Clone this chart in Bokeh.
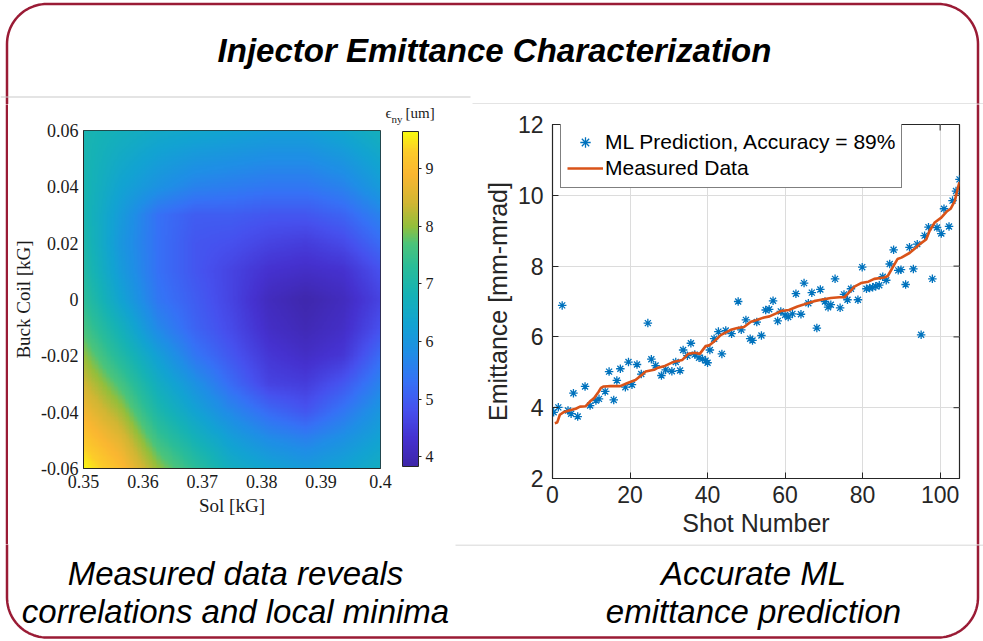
import numpy as np
from bokeh.plotting import figure
from bokeh.models import (Range1d, LinearColorMapper, ColorBar, FixedTicker,
                          Legend, LegendItem)
from bokeh.layouts import column, row
from bokeh.embed import file_html
from bokeh.resources import INLINE
from bokeh.core.properties import value

# ---------------- emittance map: solenoid vs buck coil ----------------
sol_kG = [0.35, 0.35625, 0.3625, 0.36875, 0.375, 0.38125, 0.3875, 0.39375, 0.4]
buck_kG = [-0.06, -0.05, -0.04, -0.03, -0.02, -0.01, 0.0, 0.01, 0.02, 0.03, 0.04, 0.05, 0.06]
# rows follow buck_kG (bottom to top), columns follow sol_kG
emit_map_um = [
    [9.6, 9.0, 8.0, 7.3, 6.6, 6.3, 6.1, 6.3, 6.6],
    [9.2, 8.6, 7.5, 6.8, 6.2, 5.8, 5.6, 5.9, 6.3],
    [8.8, 8.1, 7.0, 6.3, 5.7, 5.2, 4.9, 5.4, 6.0],
    [8.4, 7.6, 6.6, 5.9, 5.2, 4.6, 4.5, 4.9, 5.6],
    [8.0, 7.1, 6.2, 5.4, 4.9, 4.4, 4.2, 4.4, 5.2],
    [7.6, 6.7, 5.7, 5.1, 4.7, 4.2, 4.0, 4.2, 4.8],
    [7.3, 6.3, 5.4, 5.0, 4.6, 4.1, 3.9, 4.1, 4.6],
    [7.1, 6.1, 5.3, 4.9, 4.6, 4.3, 4.2, 4.3, 4.8],
    [7.0, 6.0, 5.3, 4.9, 4.8, 4.6, 4.5, 4.7, 5.2],
    [6.9, 6.1, 5.3, 5.0, 5.0, 4.9, 4.9, 5.1, 5.6],
    [6.9, 6.3, 5.9, 5.6, 5.5, 5.4, 5.4, 5.6, 6.1],
    [6.9, 6.5, 6.2, 6.0, 5.9, 5.8, 5.8, 6.0, 6.4],
    [6.9, 6.7, 6.5, 6.4, 6.3, 6.2, 6.2, 6.4, 6.7],
]
sol_ticks = [0.35, 0.36, 0.37, 0.38, 0.39, 0.4]
sol_tick_labels = ["0.35", "0.36", "0.37", "0.38", "0.39", "0.4"]
buck_ticks = [-0.06, -0.04, -0.02, 0.0, 0.02, 0.04, 0.06]
buck_tick_labels = ["-0.06", "-0.04", "-0.02", "0", "0.02", "0.04", "0.06"]
cbar_ticks = [4, 5, 6, 7, 8, 9]
cbar_low, cbar_high = 3.83, 9.64

# ---------------- ML prediction vs measured emittance ----------------
shot_pred = [0.3, 1.5, 2.5, 4.0, 4.8, 5.4, 6.5, 8.4, 9.7, 11.2, 12.0, 13.6, 14.6, 15.8,
             16.6, 17.5, 18.8, 19.6, 20.5, 21.8, 22.9, 24.6, 25.5, 26.6, 28.1, 29.2,
             30.8, 31.8, 32.9, 33.7, 34.8, 35.7, 36.7, 37.8, 38.7, 39.5, 40.0, 40.6,
             41.7, 42.8, 43.7, 44.7, 46.2, 47.9, 48.7, 49.9, 51.0, 51.6, 52.7, 53.9,
             55.0, 55.9, 56.9, 58.1, 58.9, 60.0, 60.8, 61.9, 62.8, 64.1, 64.9, 66.0,
             66.9, 68.2, 69.1, 70.3, 71.1, 71.8, 72.9, 74.2, 75.2, 76.1, 77.0, 78.8,
             79.9, 81.0, 81.8, 82.6, 83.4, 84.3, 85.2, 86.1, 87.0, 88.0, 89.2, 89.9,
             91.1, 92.1, 93.1, 94.1, 95.1, 96.0, 97.0, 98.0, 99.2, 100.3, 101.0,
             102.3, 103.2, 104.1, 105.0]
emit_pred = [3.87, 4.01, 6.89, 3.92, 3.83, 4.41, 3.75, 4.60, 4.06, 4.20, 4.25, 4.46, 5.02, 4.22,
             4.77, 5.10, 4.58, 5.29, 4.65, 5.22, 4.95, 6.39, 5.37, 5.19, 4.91, 5.07,
             5.03, 5.29, 5.05, 5.63, 5.47, 5.82, 5.50, 5.41, 5.38, 5.33, 5.27, 5.63,
             5.95, 6.15, 5.52, 6.18, 6.09, 7.00, 6.20, 6.48, 5.95, 5.90, 6.42, 6.04,
             6.76, 6.78, 7.02, 6.45, 6.72, 6.62, 6.56, 6.65, 7.22, 6.64, 7.52, 6.95,
             7.25, 6.25, 7.34, 7.00, 6.84, 6.91, 7.64, 6.82, 7.20, 7.05, 7.36, 7.05,
             7.97, 7.36, 7.38, 7.40, 7.43, 7.46, 7.70, 7.60, 8.06, 8.46, 7.88, 7.90,
             7.48, 8.53, 7.92, 8.62, 6.06, 8.86, 9.10, 7.64, 9.09, 8.92, 9.62,
             9.12, 9.85, 10.12, 10.45]
shot_meas = [0.6, 1.2, 1.9, 3.0, 4.5, 6.0, 7.1, 8.5, 9.7, 10.7, 11.9, 12.5, 13.2, 15.0,
             17.5, 19.2, 21.4, 23.1, 24.0, 26.2, 27.0, 29.0, 31.4, 33.5, 35.0, 36.7,
             38.0, 39.5, 40.4, 42.0, 43.4, 45.0, 46.0, 47.7, 49.4, 51.2, 52.5, 54.6,
             56.0, 58.0, 58.9, 61.0, 63.2, 65.0, 67.5, 69.3, 71.8, 74.0, 75.3, 76.1,
             77.9, 79.6, 81.5, 83.0, 85.6, 86.5, 87.8, 89.0, 90.0, 92.1, 93.5, 95.1,
             96.4, 97.3, 98.6, 100.3, 101.8, 102.7, 103.8, 104.6, 105.0]
emit_meas = [3.56, 3.58, 3.80, 3.88, 3.93, 3.97, 4.03, 4.04, 4.18, 4.27, 4.45, 4.56, 4.60, 4.61,
             4.61, 4.69, 4.78, 4.93, 5.02, 5.07, 5.12, 5.18, 5.30, 5.35, 5.52, 5.55,
             5.52, 5.74, 5.76, 5.90, 6.05, 6.14, 6.20, 6.25, 6.28, 6.43, 6.47, 6.55,
             6.58, 6.68, 6.73, 6.76, 6.86, 6.92, 7.01, 7.05, 7.10, 7.12, 7.12, 7.21,
             7.42, 7.52, 7.56, 7.64, 7.68, 7.72, 7.97, 8.20, 8.24, 8.37, 8.50, 8.65,
             8.75, 9.00, 9.23, 9.37, 9.55, 9.62, 9.84, 10.22, 10.37]
shot_ticks = [0, 20, 40, 60, 80, 100]
emit_ticks = [2, 4, 6, 8, 10, 12]
shot_lim = (0, 105)
emit_lim = (2, 12)

# ---------------- styling ----------------
W, H = 983, 641
MID_TOP, MID_BOT = 104, 544
SERIF = "Liberation Serif"
SANS = "Liberation Sans"
INK = "#262626"
FRAME_RED = "#9a1b35"
SEP_GREY = "#c9c9c9"

# parula-like colour ramp sampled at the colour-bar stops
ramp = [(3.83, "#3e26a8"), (4.3, "#4531cf"), (4.8, "#4650ee"), (5.3, "#3671f6"),
        (5.8, "#1f8ee6"), (6.3, "#12a3d2"), (6.8, "#15b2b6"), (7.3, "#2abd98"),
        (7.7, "#4cc47a"), (8.0, "#93bf3c"), (8.4, "#d0b633"), (8.9, "#fab631"),
        (9.3, "#fccb2a"), (9.64, "#f9fb0e")]


def build_palette(stops, lo, hi, n=256):
    vals = np.array([s[0] for s in stops])
    rgb = np.array([[int(h[i:i + 2], 16) for i in (1, 3, 5)] for _, h in stops], float)
    out = []
    for v in np.linspace(lo, hi, n):
        c = [np.interp(v, vals, rgb[:, k]) for k in range(3)]
        out.append("#%02x%02x%02x" % tuple(int(round(x)) for x in c))
    return out


def rounded_outline(x0, y0, x1, y1, r, n=24):
    xs, ys = [], []
    for cx, cy, a0 in ((x0 + r, y0 + r, 180), (x1 - r, y0 + r, 270),
                       (x1 - r, y1 - r, 0), (x0 + r, y1 - r, 90)):
        a = np.radians(np.linspace(a0, a0 + 90, n))
        xs += list(cx + r * np.cos(a))
        ys += list(cy + r * np.sin(a))
    xs.append(xs[0])
    ys.append(ys[0])
    return xs, ys


BORDER = rounded_outline(6.5, 3.5, 977.5, 637.0, 40)


def page_strip(x0, x1, y0, y1):
    """A bare canvas whose data coordinates are page pixels (y downwards)."""
    p = figure(width=x1 - x0, height=y1 - y0, x_range=Range1d(x0, x1),
               y_range=Range1d(y1, y0), x_axis_type=None, y_axis_type=None,
               title=None, output_backend="svg", toolbar_location=None, min_border=0)
    p.min_border_left = p.min_border_right = p.min_border_top = p.min_border_bottom = 0
    p.grid.visible = False
    p.outline_line_color = None
    p.line(BORDER[0], BORDER[1], line_color=FRAME_RED, line_width=2.5)
    return p


# ---------------- header ----------------
head = page_strip(0, W, 0, MID_TOP)
head.line([0, 470], [96.5, 96.5], line_color=SEP_GREY, line_width=1)
head.line([472, W], [103.5, 103.5], line_color=SEP_GREY, line_width=1)
head.text(x=[494], y=[50], text=["Injector Emittance Characterization"],
          text_font=value(SANS), text_font_style="bold italic", text_font_size="33px",
          text_align="center", text_baseline="middle", text_color="black")

edge_l = page_strip(0, 8, MID_TOP, MID_BOT)
edge_r = page_strip(975, W, MID_TOP, MID_BOT)

# ---------------- emittance map ----------------
heat = figure(width=458, height=MID_BOT - MID_TOP, x_range=Range1d(0.35, 0.4),
              y_range=Range1d(-0.06, 0.06),
              title=None, output_backend="svg", toolbar_location=None,
              min_border_left=75, min_border_right=86, min_border_top=26, min_border_bottom=76)
heat.grid.visible = False

# shaded (bilinear) surface between the measured nodes
xs_f = np.linspace(sol_kG[0], sol_kG[-1], 220)
ys_f = np.linspace(buck_kG[0], buck_kG[-1], 260)
grid = np.array(emit_map_um)
tmp = np.array([np.interp(xs_f, sol_kG, r) for r in grid])
surf = np.array([np.interp(ys_f, buck_kG, tmp[:, j]) for j in range(len(xs_f))]).T

mapper = LinearColorMapper(palette=build_palette(ramp, cbar_low, cbar_high),
                           low=cbar_low, high=cbar_high)
heat.image(image=[surf], x=0.35, y=-0.06, dw=0.05, dh=0.12, color_mapper=mapper)

heat.outline_line_color = INK
heat.outline_line_width = 1
for ax, ticks, labels in ((heat.xaxis, sol_ticks, sol_tick_labels),
                          (heat.yaxis, buck_ticks, buck_tick_labels)):
    ax.ticker = FixedTicker(ticks=ticks)
    ax.major_label_overrides = dict(zip(ticks, labels))
    ax.major_tick_in = 0
    ax.major_tick_out = 0
    ax.minor_tick_line_color = None
    ax.axis_line_color = INK
    ax.major_label_text_font = SERIF
    ax.major_label_text_font_size = "18px"
    ax.major_label_text_color = "#1a1a1a"
    ax.axis_label_text_font = SERIF
    ax.axis_label_text_font_size = "19px"
    ax.axis_label_text_font_style = "normal"
    ax.axis_label_text_color = "#1a1a1a"
heat.xaxis.axis_label = "Sol [kG]"
heat.yaxis.axis_label = "Buck Coil [kG]"
heat.xaxis.major_label_standoff = 6
heat.yaxis.major_label_standoff = 5
heat.xaxis.axis_label_standoff = 4
heat.yaxis.axis_label_standoff = 4

# colour bar sits in the right-hand margin, offset from the plot frame
cbar = ColorBar(color_mapper=mapper, ticker=FixedTicker(ticks=cbar_ticks),
                orientation="vertical", width=16, height=335, location=(319, 2),
                padding=0, margin=0, label_standoff=4,
                major_tick_in=0, major_tick_out=3, major_tick_line_color=INK,
                bar_line_color=INK, bar_line_width=1,
                major_label_text_font=SERIF, major_label_text_font_size="16px",
                major_label_text_color="#1a1a1a",
                background_fill_color=None, border_line_color=None)
heat.add_layout(cbar)


def bar_heading(text, x_px, y_px, size):
    """Heading piece above the colour bar (a bar-less colour-bar title)."""
    return ColorBar(color_mapper=mapper, ticker=FixedTicker(ticks=[]),
                    orientation="horizontal", width=1, height=1, location=(x_px, y_px),
                    padding=0, margin=0, scale_alpha=0, bar_line_color=None,
                    major_tick_line_color=None, minor_tick_line_color=None,
                    title=text, title_text_font=SERIF, title_text_font_size=size,
                    title_text_font_style="normal", title_text_color="#1a1a1a",
                    title_standoff=0, background_fill_color=None, border_line_color=None)


# epsilon with an "ny" subscript, followed by the unit
heat.add_layout(bar_heading("\u03f5", 302, 347, "15px"))
heat.add_layout(bar_heading("ny", 308, 343, "11px"))
heat.add_layout(bar_heading("[um]", 322, 347, "15px"))

# ---------------- ML prediction ----------------
sc = figure(width=509, height=MID_BOT - MID_TOP, x_range=Range1d(*shot_lim),
            y_range=Range1d(*emit_lim),
            title=None, output_backend="svg", toolbar_location=None,
            min_border_left=86, min_border_right=16, min_border_top=20, min_border_bottom=66)
sc.grid.grid_line_color = "#dcdcdc"
sc.grid.grid_line_width = 1
sc.xgrid.ticker = FixedTicker(ticks=shot_ticks)
sc.ygrid.ticker = FixedTicker(ticks=emit_ticks)
sc.outline_line_color = INK
sc.outline_line_width = 1.2

for ax in sc.axis:
    ax.major_tick_in = 6
    ax.major_tick_out = 0
    ax.minor_tick_line_color = None
    ax.axis_line_color = INK
    ax.major_tick_line_color = INK
    ax.major_label_text_font = SANS
    ax.major_label_text_font_size = "23px"
    ax.major_label_text_color = INK
    ax.axis_label_text_font = SANS
    ax.axis_label_text_font_size = "25px"
    ax.axis_label_text_font_style = "normal"
    ax.axis_label_text_color = INK
sc.xaxis.ticker = FixedTicker(ticks=shot_ticks)
sc.yaxis.ticker = FixedTicker(ticks=emit_ticks)
sc.xaxis.axis_label = "Shot Number"
sc.xaxis.major_label_standoff = 7
sc.xaxis.axis_label_standoff = 3
sc.yaxis.axis_label = "Emittance [mm-mrad]"
sc.yaxis.major_label_standoff = 9
sc.yaxis.axis_label_standoff = 3

# inward ticks on the top and right edges of the box (6 px long)
tick_dy = 6 * (emit_lim[1] - emit_lim[0]) / 354
tick_dx = 6 * (shot_lim[1] - shot_lim[0]) / 407
sc.segment(x0=shot_ticks, y0=[emit_lim[1]] * len(shot_ticks),
           x1=shot_ticks, y1=[emit_lim[1] - tick_dy] * len(shot_ticks),
           line_color=INK, line_width=1)
sc.segment(x0=[shot_lim[1]] * len(emit_ticks), y0=emit_ticks,
           x1=[shot_lim[1] - tick_dx] * len(emit_ticks), y1=emit_ticks,
           line_color=INK, line_width=1)

r_pred = sc.scatter(shot_pred, emit_pred, marker="asterisk", size=8.5,
                    line_color="#0072bd", line_width=1.3)
r_meas = sc.line(shot_meas, emit_meas, line_color="#d95319", line_width=2.6)

legend = Legend(items=[LegendItem(label="ML Prediction, Accuracy = 89%", renderers=[r_pred]),
                       LegendItem(label="Measured Data", renderers=[r_meas])],
                location=(8, 290), orientation="vertical",
                label_text_font=SANS, label_text_font_size="21px", label_text_color="black",
                glyph_width=36, glyph_height=26, label_height=26, label_standoff=2,
                spacing=0, padding=6, margin=0,
                border_line_color="black", border_line_width=1.2,
                background_fill_color="white", background_fill_alpha=1)
sc.add_layout(legend)

# ---------------- captions ----------------
foot = page_strip(0, W, MID_BOT, H)
foot.line([455, W], [MID_BOT + 0.5, MID_BOT + 0.5], line_color=SEP_GREY, line_width=1)
foot.text(x=[235, 235, 753, 753], y=[573, 611, 573, 611],
          text=["Measured data reveals", "correlations and local minima",
                "Accurate ML", "emittance prediction"],
          text_font=value(SANS), text_font_style="italic", text_font_size="33px",
          text_align="center", text_baseline="middle", text_color="black")

# each panel sits in its own column so the two plot frames keep independent margins
middle = row(column(edge_l), column(heat), column(sc), column(edge_r))
page = column(head, middle, foot)
open("out.html", "w").write(file_html(page, INLINE))
